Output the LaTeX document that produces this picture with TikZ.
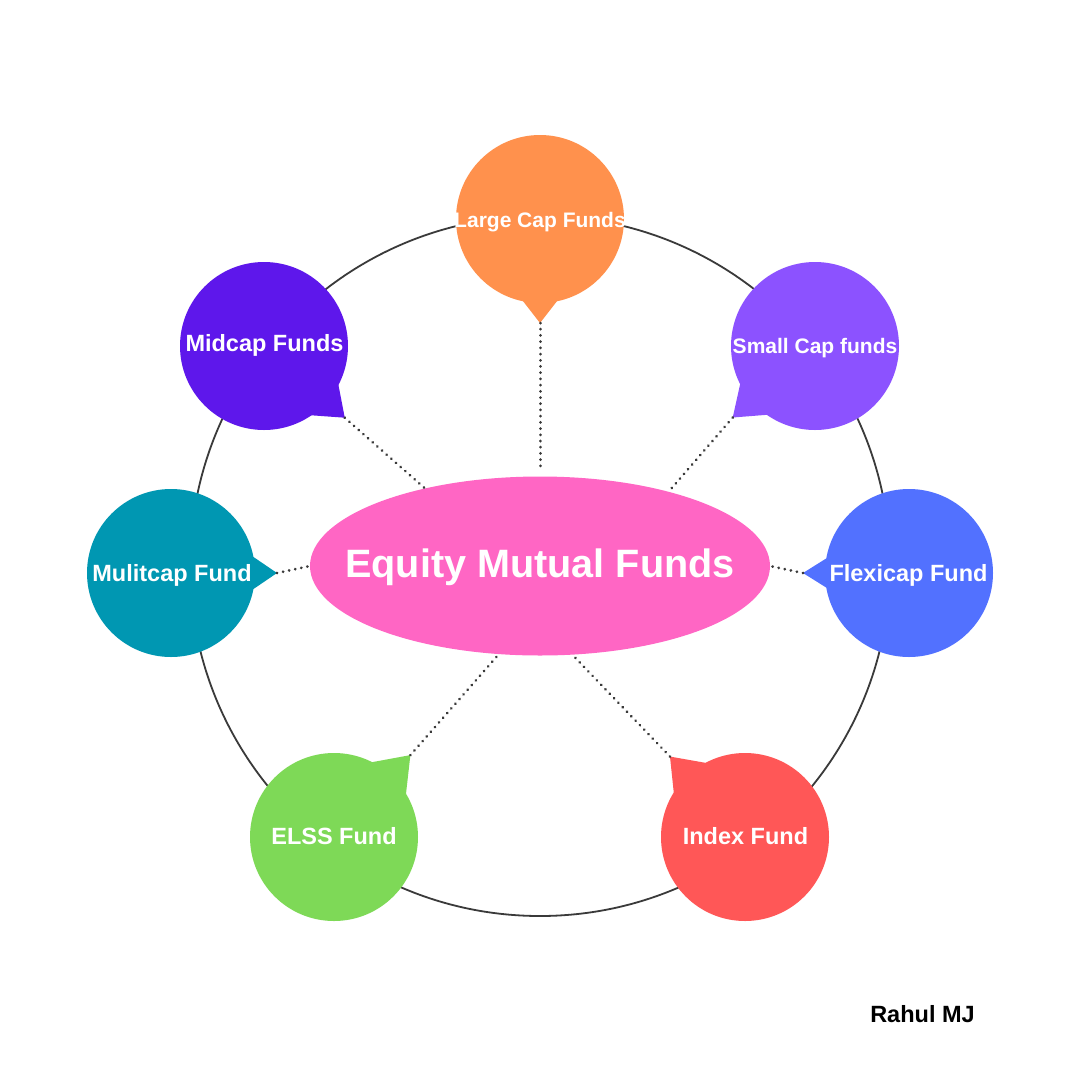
\documentclass[tikz,border=0pt]{standalone}
\usepackage{fontspec}
\setmainfont{Liberation Sans}
\usetikzlibrary{shapes.geometric}
\definecolor{largeC}{HTML}{FF914D}
\definecolor{midC}{HTML}{5E17EB}
\definecolor{smallC}{HTML}{8C52FF}
\definecolor{multiC}{HTML}{0097B2}
\definecolor{flexiC}{HTML}{5271FF}
\definecolor{elssC}{HTML}{7ED957}
\definecolor{indexC}{HTML}{FF5757}
\definecolor{pinkC}{HTML}{FF66C4}
\definecolor{lineC}{HTML}{3A3A3A}
\tikzset{
  ringline/.style={draw=lineC, line width=1.8pt},
  dotline/.style={draw=lineC, line width=3pt, line cap=round, dash pattern=on 0.01pt off 6.2pt},
  bubcirc/.style={circle, minimum size=168pt, inner sep=0pt, outer sep=0pt},
  lbl/.style={text=white, anchor=base, inner sep=0pt, font=\bfseries\fontsize{23.5}{28}\selectfont},
  lblsmall/.style={lbl, font=\bfseries\fontsize{21}{25}\selectfont}
}
% name, centre, colour, tip angle, tip distance, half angle of base
\newcommand\bubble[6]{%
  \begin{scope}[shift={(#2)}]
    \fill[#3] (0,0) -- (#4-#6:84) -- (#4:#5) -- (#4+#6:84) -- cycle;
    \node[bubcirc, fill=#3] (#1) at (0,0) {};
    \coordinate (#1tip) at (#4:#5);
  \end{scope}}
\begin{document}
\begin{tikzpicture}[x=1pt,y=-1pt]
\fill[white] (0,0) rectangle (1080,1080);
\useasboundingbox (0,0) rectangle (1080,1080);
% outer ring
\draw[ringline] (540,566) circle (350);
% centre ellipse
\node[ellipse, fill=pinkC, minimum width=460pt, minimum height=179pt, inner sep=0pt, outer sep=0pt] (ell) at (540,566) {};
\node[lbl, font=\bfseries\fontsize{39.6}{46}\selectfont] (ellt) at (540,577) {Equity Mutual Funds};
% bubbles
\bubble{large}{540,219}{largeC}{90}{104}{11.6}
\bubble{mid}{264,346}{midC}{41.6}{108}{14}
\bubble{small}{815,346}{smallC}{139}{109}{14}
\bubble{multi}{171,573}{multiC}{0}{106}{11}
\bubble{flexi}{909,573}{flexiC}{180}{106}{10}
\bubble{elss}{334,837}{elssC}{-47}{112}{16}
\bubble{index}{745,837}{indexC}{-133}{110}{15}
% labels
\node[lblsmall] (larget) at (540,227) {Large Cap Funds};
\node[lbl] (midt) at (264.5,351) {Midcap Funds};
\node[lblsmall] (smallt) at (815,353) {Small Cap funds};
\node[lbl] (multit) at (172,581) {Mulitcap Fund};
\node[lbl] (flexit) at (908.5,581) {Flexicap Fund};
\node[lbl] (elsst) at (334,844) {ELSS Fund};
\node[lbl] (indext) at (745.5,844) {Index Fund};
% dotted connectors
\draw[dotline, shorten >=7pt] (largetip) -- (ell.90);
\draw[dotline] (midtip) -- (ell.146.9);
\draw[dotline] (smalltip) -- (ell.30.3);
\draw[dotline] (multitip) -- (ell.180);
\draw[dotline] (flexitip) -- (ell.0);
\draw[dotline] (elsstip) -- (ell.245);
\draw[dotline] (indextip) -- (ell.290.7);
% author
\node[anchor=base, inner sep=0pt, font=\bfseries\fontsize{23.5}{28}\selectfont] (author) at (922.5,1022) {Rahul MJ};
\end{tikzpicture}
\end{document}
